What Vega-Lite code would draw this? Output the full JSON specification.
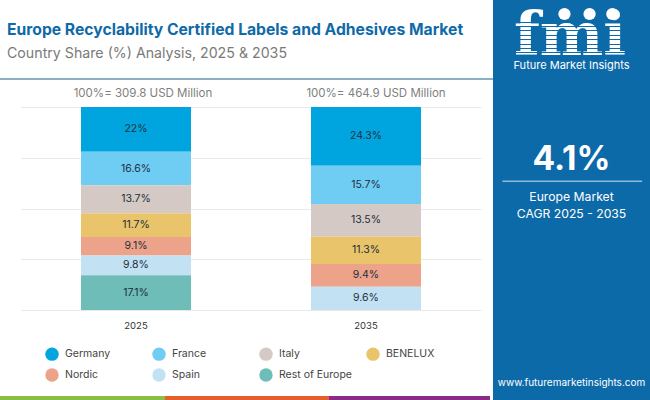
{
  "$schema": "https://vega.github.io/schema/vega-lite/v6.json",
  "padding": 0,
  "background": "white",
  "config": {"view": {"stroke": null}, "font": "Inter"},
  "spacing": 0,
  "hconcat": [
    {
      "spacing": 0,
      "align": "none",
      "resolve": {"scale": {"color": "independent"}, "legend": {"color": "independent"}},
      "vconcat": [
        {
          "width": 493, "height": 22,
          "data": {"values": [{}]},
          "mark": {"type": "rect", "opacity": 0}
        },
        {
          "width": 493, "height": 2,
          "title": {
            "text": "Europe Recyclability Certified Labels and Adhesives Market",
            "subtitle": "Country Share (%) Analysis, 2025 & 2035",
            "anchor": "start", "frame": "bounds", "dx": 7, "offset": 16,
            "font": "Inter", "fontSize": 15.7, "fontWeight": 700, "color": "#0f6aa8",
            "subtitleFont": "Inter", "subtitleFontSize": 14.2, "subtitleColor": "#7a7a7a", "subtitlePadding": 8
          },
          "data": {"values": [{}]},
          "mark": {"type": "rect", "color": "#8aafc4"}
        },
        {
          "width": 493, "height": 8,
          "data": {"values": [{}]},
          "mark": {"type": "rect", "opacity": 0}
        },
        {
          "spacing": 0,
          "hconcat": [
            {
              "width": 21, "height": 203,
              "data": {"values": [{}]},
              "mark": {"type": "rect", "opacity": 0}
            },
            {
              "width": 460, "height": 203,
              "layer": [
                {
                  "data": {"name": "shares", "values": [
                    {"year": "2025", "region": "Germany", "rank": 1, "share": 22, "label": "22%"},
                    {"year": "2025", "region": "France", "rank": 2, "share": 16.6, "label": "16.6%"},
                    {"year": "2025", "region": "Italy", "rank": 3, "share": 13.7, "label": "13.7%"},
                    {"year": "2025", "region": "BENELUX", "rank": 4, "share": 11.7, "label": "11.7%"},
                    {"year": "2025", "region": "Nordic", "rank": 5, "share": 9.1, "label": "9.1%"},
                    {"year": "2025", "region": "Spain", "rank": 6, "share": 9.8, "label": "9.8%"},
                    {"year": "2025", "region": "Rest of Europe", "rank": 7, "share": 17.1, "label": "17.1%"},
                    {"year": "2035", "region": "Germany", "rank": 1, "share": 24.3, "label": "24.3%"},
                    {"year": "2035", "region": "France", "rank": 2, "share": 15.7, "label": "15.7%"},
                    {"year": "2035", "region": "Italy", "rank": 3, "share": 13.5, "label": "13.5%"},
                    {"year": "2035", "region": "BENELUX", "rank": 4, "share": 11.3, "label": "11.3%"},
                    {"year": "2035", "region": "Nordic", "rank": 5, "share": 9.4, "label": "9.4%"},
                    {"year": "2035", "region": "Spain", "rank": 6, "share": 9.6, "label": "9.6%"}
                  ]},
                  "mark": {"type": "bar", "width": 110},
                  "encoding": {
                    "x": {
                      "field": "year", "type": "nominal", "title": null,
                      "scale": {"padding": 0},
                      "axis": {"labelAngle": 0, "ticks": false, "domain": false, "labelFontSize": 9.5, "labelColor": "#333333", "labelPadding": 10}
                    },
                    "y": {
                      "field": "share", "type": "quantitative", "stack": "normalize", "title": null,
                      "axis": {"values": [0, 0.25, 0.5, 0.75, 1], "labels": false, "ticks": false, "domain": false, "gridColor": "#e9e9e9"}
                    },
                    "order": {"field": "rank", "sort": "descending"},
                    "color": {
                      "field": "region", "type": "nominal",
                      "scale": {
                        "domain": ["Germany", "France", "Italy", "BENELUX", "Nordic", "Spain", "Rest of Europe"],
                        "range": ["#00a5e0", "#6fcdf4", "#d4c9c5", "#eac46a", "#eda28a", "#c2e1f2", "#6fbdb8"]
                      },
                      "legend": {
                        "title": null, "orient": "none", "legendX": 45, "legendY": 240,
                        "columns": 4, "direction": "horizontal", "symbolType": "circle", "symbolSize": 180, "symbolStrokeWidth": 0,
                        "symbolOpacity": 1, "gridAlign": "all", "columnPadding": 14, "rowPadding": 7,
                        "labelFontSize": 10.5, "labelColor": "#444444", "labelOffset": 6
                      }
                    }
                  }
                },
                {
                  "data": {"name": "shares"},
                  "mark": {"type": "text", "fontSize": 10.5, "color": "#22303c"},
                  "encoding": {
                    "x": {"field": "year", "type": "nominal"},
                    "y": {"field": "share", "type": "quantitative", "stack": "normalize", "bandPosition": 0.5},
                    "order": {"field": "rank", "sort": "descending"},
                    "text": {"field": "label"}
                  }
                },
                {
                  "data": {"values": [{"year": "2025", "total": "100%= 309.8 USD Million"}]},
                  "mark": {"type": "text", "fontSize": 11.5, "color": "#808080", "dy": -13, "dx": 7},
                  "encoding": {
                    "x": {"field": "year", "type": "nominal"},
                    "y": {"datum": 1},
                    "text": {"field": "total"}
                  }
                },
                {
                  "data": {"values": [{"year": "2035", "total": "100%= 464.9 USD Million"}]},
                  "mark": {"type": "text", "fontSize": 11.5, "color": "#808080", "dy": -13, "dx": 10},
                  "encoding": {
                    "x": {"field": "year", "type": "nominal"},
                    "y": {"datum": 1},
                    "text": {"field": "total"}
                  }
                }
              ]
            }
          ]
        },
        {
          "width": 490, "height": 14,
          "data": {"values": [{}]},
          "mark": {"type": "rect", "opacity": 0}
        },
        {
          "width": 490, "height": 4,
          "data": {"values": [
            {"part": "a", "length": 165},
            {"part": "b", "length": 164},
            {"part": "c", "length": 161}
          ]},
          "mark": {"type": "bar", "size": 4},
          "encoding": {
            "x": {"field": "length", "type": "quantitative", "stack": "zero", "axis": null, "scale": {"domain": [0, 490], "nice": false}},
            "order": {"field": "part"},
            "color": {"field": "part", "type": "nominal", "legend": null, "scale": {"range": ["#8cbd45", "#e55f2d", "#8b2a8b"]}}
          }
        }
      ]
    },
    {
      "width": 157, "height": 400,
      "data": {"values": [{"value": "4.1%"}]},
      "encoding": {
        "x": {"type": "quantitative", "scale": {"domain": [0, 100], "nice": false}, "axis": null},
        "y": {
          "type": "quantitative", "scale": {"domain": [100, 0], "nice": false},
          "axis": {"values": [5.5, 6.6, 7.6, 8.7, 9.8, 10.9, 11.9, 13, 14], "labels": false, "ticks": false, "domain": false, "title": null, "grid": true, "gridColor": "#0d6aa8", "gridWidth": 1, "zindex": 1}
        }
      },
      "layer": [
        {"mark": {"type": "rect", "color": "#0d6aa8"}, "encoding": {"x": {}, "y": {}}},
        {"mark": {"type": "text", "font": "DejaVu Serif", "fontWeight": 700, "fontSize": 60, "color": "white", "baseline": "alphabetic"},
         "encoding": {"x": {"datum": 49}, "y": {"datum": 13.8}, "text": {"value": "fmi"}}},
        {"mark": {"type": "circle", "size": 150, "color": "white", "opacity": 1},
         "encoding": {"x": {"datum": 45.5}, "y": {"datum": 3.5}}},
        {"mark": {"type": "circle", "size": 150, "color": "white", "opacity": 1},
         "encoding": {"x": {"datum": 61.5}, "y": {"datum": 3.5}}},
        {"mark": {"type": "circle", "size": 150, "color": "white", "opacity": 1},
         "encoding": {"x": {"datum": 76}, "y": {"datum": 3.5}}},
        {"mark": {"type": "text", "fontSize": 11, "color": "white"},
         "encoding": {"x": {"datum": 50}, "y": {"datum": 16.4}, "text": {"value": "Future Market Insights"}}},
        {"mark": {"type": "text", "fontSize": 33.5, "fontWeight": 700, "color": "white"},
         "encoding": {"x": {"datum": 50}, "y": {"datum": 40}, "text": {"field": "value"}}},
        {"mark": {"type": "rule", "color": "#8fbbd8", "strokeWidth": 1.5},
         "encoding": {"x": {"datum": 6}, "x2": {"datum": 95}, "y": {"datum": 45.3}}},
        {"mark": {"type": "text", "fontSize": 12.2, "color": "white"},
         "encoding": {"x": {"datum": 50}, "y": {"datum": 49.3}, "text": {"value": "Europe Market"}}},
        {"mark": {"type": "text", "fontSize": 12.2, "color": "white"},
         "encoding": {"x": {"datum": 50}, "y": {"datum": 53.5}, "text": {"value": "CAGR 2025 - 2035"}}},
        {"mark": {"type": "text", "fontSize": 10, "color": "white"},
         "encoding": {"x": {"datum": 50}, "y": {"datum": 95.7}, "text": {"value": "www.futuremarketinsights.com"}}}
      ]
    }
  ]
}
